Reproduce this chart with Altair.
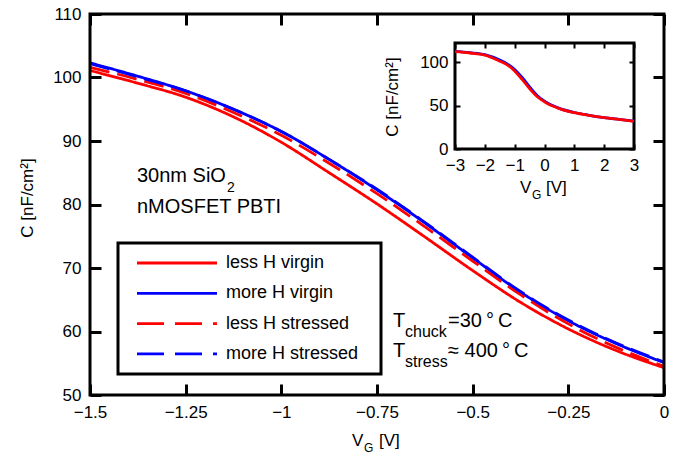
import altair as alt
import pandas as pd

# ---------------- data ----------------
vg_main = [-1.5, -1.375, -1.25, -1.125, -1.0, -0.875, -0.75, -0.625, -0.5, -0.375, -0.25, -0.125, 0.0]
c_less_virgin = [101.1, 99.1, 96.9, 93.8, 89.8, 85.0, 80.1, 74.9, 69.6, 64.6, 60.4, 57.0, 54.3]
c_more_virgin = [102.3, 100.2, 97.9, 95.0, 91.5, 87.1, 82.3, 77.1, 71.6, 66.2, 61.7, 58.1, 55.1]
c_less_stressed = [101.6, 99.7, 97.5, 94.5, 90.9, 86.5, 81.7, 76.5, 71.1, 65.8, 61.2, 57.5, 54.5]
c_more_stressed = [102.2, 100.1, 97.9, 95.0, 91.5, 87.1, 82.4, 77.2, 71.7, 66.3, 61.8, 58.2, 55.2]

vg_inset = [-3.0, -2.5, -2.0, -1.5, -1.25, -1.0, -0.75, -0.5, -0.25, 0.0, 0.5, 1.0, 1.5, 2.0, 2.5, 3.0]
c_inset_less = [112.0, 110.5, 108.0, 101.1, 96.9, 89.8, 80.1, 69.6, 60.4, 54.3, 46.5, 41.8, 38.6, 36.0, 34.0, 32.0]
c_inset_more = [112.3, 110.8, 108.5, 102.3, 97.9, 91.5, 82.3, 71.6, 61.7, 55.1, 46.8, 42.0, 38.8, 36.2, 34.1, 32.1]

series_names = ["less H virgin", "more H virgin", "less H stressed", "more H stressed"]
series_colors = ["#ff0000", "#0000ff", "#ff0000", "#0000ff"]
series_dashed = [False, False, True, True]

x_ticks_main = [-1.5, -1.25, -1.0, -0.75, -0.5, -0.25, 0.0]
y_ticks_main = [50, 60, 70, 80, 90, 100, 110]
x_ticks_inset = [-3, -2, -1, 0, 1, 2, 3]
y_ticks_inset = [0, 50, 100]

FONT = "Liberation Sans"
W, H = 574, 381
LW = 2.8
TL = 11   # main tick length (inward)
ITL = 5   # inset tick length (inward)

# ---------------- main panel ----------------
XMIN, XMAX, YMIN, YMAX = -1.5, 0.0, 50.0, 110.0
minus_expr = "datum.value < 0 ? '\u2212' + toString(-datum.value) : toString(datum.value)"


def xs_main():
    return alt.Scale(domain=[XMIN, XMAX], nice=False, zero=False)


def ys_main():
    return alt.Scale(domain=[YMIN, YMAX], nice=False, zero=False)


def axis(orient, values, offset, tsize, twidth, labels=True, pad=9, expr=None):
    kw = dict(values=values, orient=orient, offset=offset, ticks=True, tickSize=tsize, tickWidth=twidth,
              tickColor="#000000", tickOpacity=1, zindex=2, domain=False, grid=False, labels=labels,
              labelFlush=False, labelOverlap=False, labelPadding=pad, labelFontSize=17,
              labelColor="black", title=None)
    if expr is not None:
        kw["labelExpr"] = expr
    return alt.Axis(**kw)


# axes are pushed inward by the tick length so that ticks point into the plot
x_ax_main = axis("bottom", x_ticks_main, -TL, TL, 3, expr=minus_expr)
y_ax_main = axis("left", y_ticks_main, -TL, TL, 3)

main_frame_df = pd.DataFrame({"x": [XMIN], "x2": [XMAX], "y": [YMIN], "y2": [YMAX]})
main_layers = []
all_series = [c_less_virgin, c_more_virgin, c_less_stressed, c_more_stressed]
for name, vals, col, dashed in zip(series_names, all_series, series_colors, series_dashed):
    df = pd.DataFrame({"vg": vg_main, "c": vals})
    mk = alt.Chart(df).mark_line(color=col, strokeWidth=LW, interpolate="monotone",
                                 strokeDash=[20, 8] if dashed else [1, 0])
    main_layers.append(mk.encode(x=alt.X("vg:Q", scale=xs_main(), axis=x_ax_main),
                                 y=alt.Y("c:Q", scale=ys_main(), axis=y_ax_main)))
main_layers.append(alt.Chart(main_frame_df).mark_rect(fillOpacity=0, stroke="black", strokeWidth=3).encode(
    x=alt.X("x:Q", scale=xs_main(), axis=x_ax_main), x2="x2:Q",
    y=alt.Y("y:Q", scale=ys_main(), axis=y_ax_main), y2="y2:Q"))
main = alt.layer(*main_layers)

# mirror axes (top/right ticks) on an invisible copy of the frame
main_mirror = alt.Chart(main_frame_df).mark_rect(opacity=0).encode(
    x=alt.X("x:Q", scale=xs_main(), axis=axis("top", x_ticks_main, -TL, TL, 3, labels=False)), x2="x2:Q",
    y=alt.Y("y:Q", scale=ys_main(), axis=axis("right", y_ticks_main, -TL, TL, 3, labels=False)), y2="y2:Q")

# ---------------- inset panel ----------------
IX0, IX1, IY0, IY1 = 365, 544, 135, 29
IXMIN, IXMAX, IYMIN, IYMAX = -3.0, 3.0, 0.0, 122.0


def xs_in():
    return alt.Scale(domain=[IXMIN, IXMAX], range=[IX0, IX1], nice=False, zero=False)


def ys_in():
    return alt.Scale(domain=[IYMIN, IYMAX], range=[IY0, IY1], nice=False, zero=False)


x_ax_in = axis("bottom", x_ticks_inset, -(H - IY0 + ITL), ITL, 2, pad=8)
y_ax_in = axis("left", y_ticks_inset, -(IX0 + ITL), ITL, 2, pad=7)

frame_df = pd.DataFrame({"x": [IXMIN], "x2": [IXMAX], "y": [IYMIN], "y2": [IYMAX]})
inset_layers = [alt.Chart(frame_df).mark_rect(fill="white", stroke="black", strokeWidth=3).encode(
    x=alt.X("x:Q", scale=xs_in(), axis=x_ax_in), x2="x2:Q",
    y=alt.Y("y:Q", scale=ys_in(), axis=y_ax_in), y2="y2:Q")]
for vals, col in [(c_inset_more, "#0000ff"), (c_inset_less, "#ff0000")]:
    df = pd.DataFrame({"vg": vg_inset, "c": vals})
    inset_layers.append(alt.Chart(df).mark_line(color=col, strokeWidth=LW, interpolate="monotone").encode(
        x=alt.X("vg:Q", scale=xs_in(), axis=x_ax_in), y=alt.Y("c:Q", scale=ys_in(), axis=y_ax_in)))
inset = alt.layer(*inset_layers)

inset_mirror = alt.Chart(frame_df).mark_rect(opacity=0).encode(
    x=alt.X("x:Q", scale=xs_in(), axis=axis("top", x_ticks_inset, -(IY1 + ITL), ITL, 2, labels=False)),
    x2="x2:Q",
    y=alt.Y("y:Q", scale=ys_in(), axis=axis("right", y_ticks_inset, -(W - IX1 + ITL), ITL, 2, labels=False)),
    y2="y2:Q")

# ---------------- text annotations ----------------
dummy = pd.DataFrame({"a": [0]})


def txt(s, x, y, size, angle=None, align="left", baseline="alphabetic"):
    kw = dict(text=s, fontSize=size, align=align, baseline=baseline, color="black", font=FONT)
    if angle is not None:
        kw["angle"] = angle
    return alt.Chart(dummy).mark_text(**kw).encode(x=alt.value(x), y=alt.value(y))


ann = [
    # axis titles
    txt("C [nF/cm²]", -62, 184, 17, angle=270, align="center", baseline="middle"),
    txt("V", 262, 432, 17), txt("G", 274, 438, 12), txt("[V]", 289, 432, 17),
    txt("C [nF/cm²]", 303, 83, 17, angle=270, align="center", baseline="middle"),
    txt("V", 430, 179, 17), txt("G", 442, 185, 12), txt("[V]", 456, 179, 17),
    # annotations
    txt("30nm SiO", 47, 168, 20), txt("2", 137, 178, 14),
    txt("nMOSFET PBTI", 47, 199, 20),
    txt("T", 303, 313, 20), txt("chuck", 315, 323, 16), txt("=30\u2009°\u2009C", 358, 313, 20),
    txt("T", 303, 343, 20), txt("stress", 315, 353, 16), txt("\u2248 400\u2009°\u2009C", 358, 343, 20),
]

# ---------------- legend ----------------
leg = [alt.Chart(dummy).mark_rect(fill="white", stroke="black", strokeWidth=3).encode(
    x=alt.value(28), x2=alt.value(291), y=alt.value(229), y2=alt.value(360))]
for i, (name, col, dashed) in enumerate(zip(series_names, series_colors, series_dashed)):
    yy = 249 + i * 30.3
    leg.append(alt.Chart(dummy).mark_rule(color=col, strokeWidth=LW,
                                          strokeDash=[27, 11] if dashed else [1, 0]).encode(
        x=alt.value(47), x2=alt.value(127), y=alt.value(yy)))
    leg.append(txt(name, 136, yy, 18, baseline="middle"))

chart = alt.layer(main, main_mirror, inset, inset_mirror, *leg, *ann).resolve_scale(
    x="independent", y="independent").properties(
    width=W, height=H, autosize=alt.AutoSizeParams(type="none"),
    padding={"left": 90, "top": 14, "right": 23, "bottom": 62},
).configure(font=FONT, background="white", view=alt.ViewConfig(strokeWidth=0))

chart.save("out.html", embed_options={"renderer": "svg", "actions": False})
